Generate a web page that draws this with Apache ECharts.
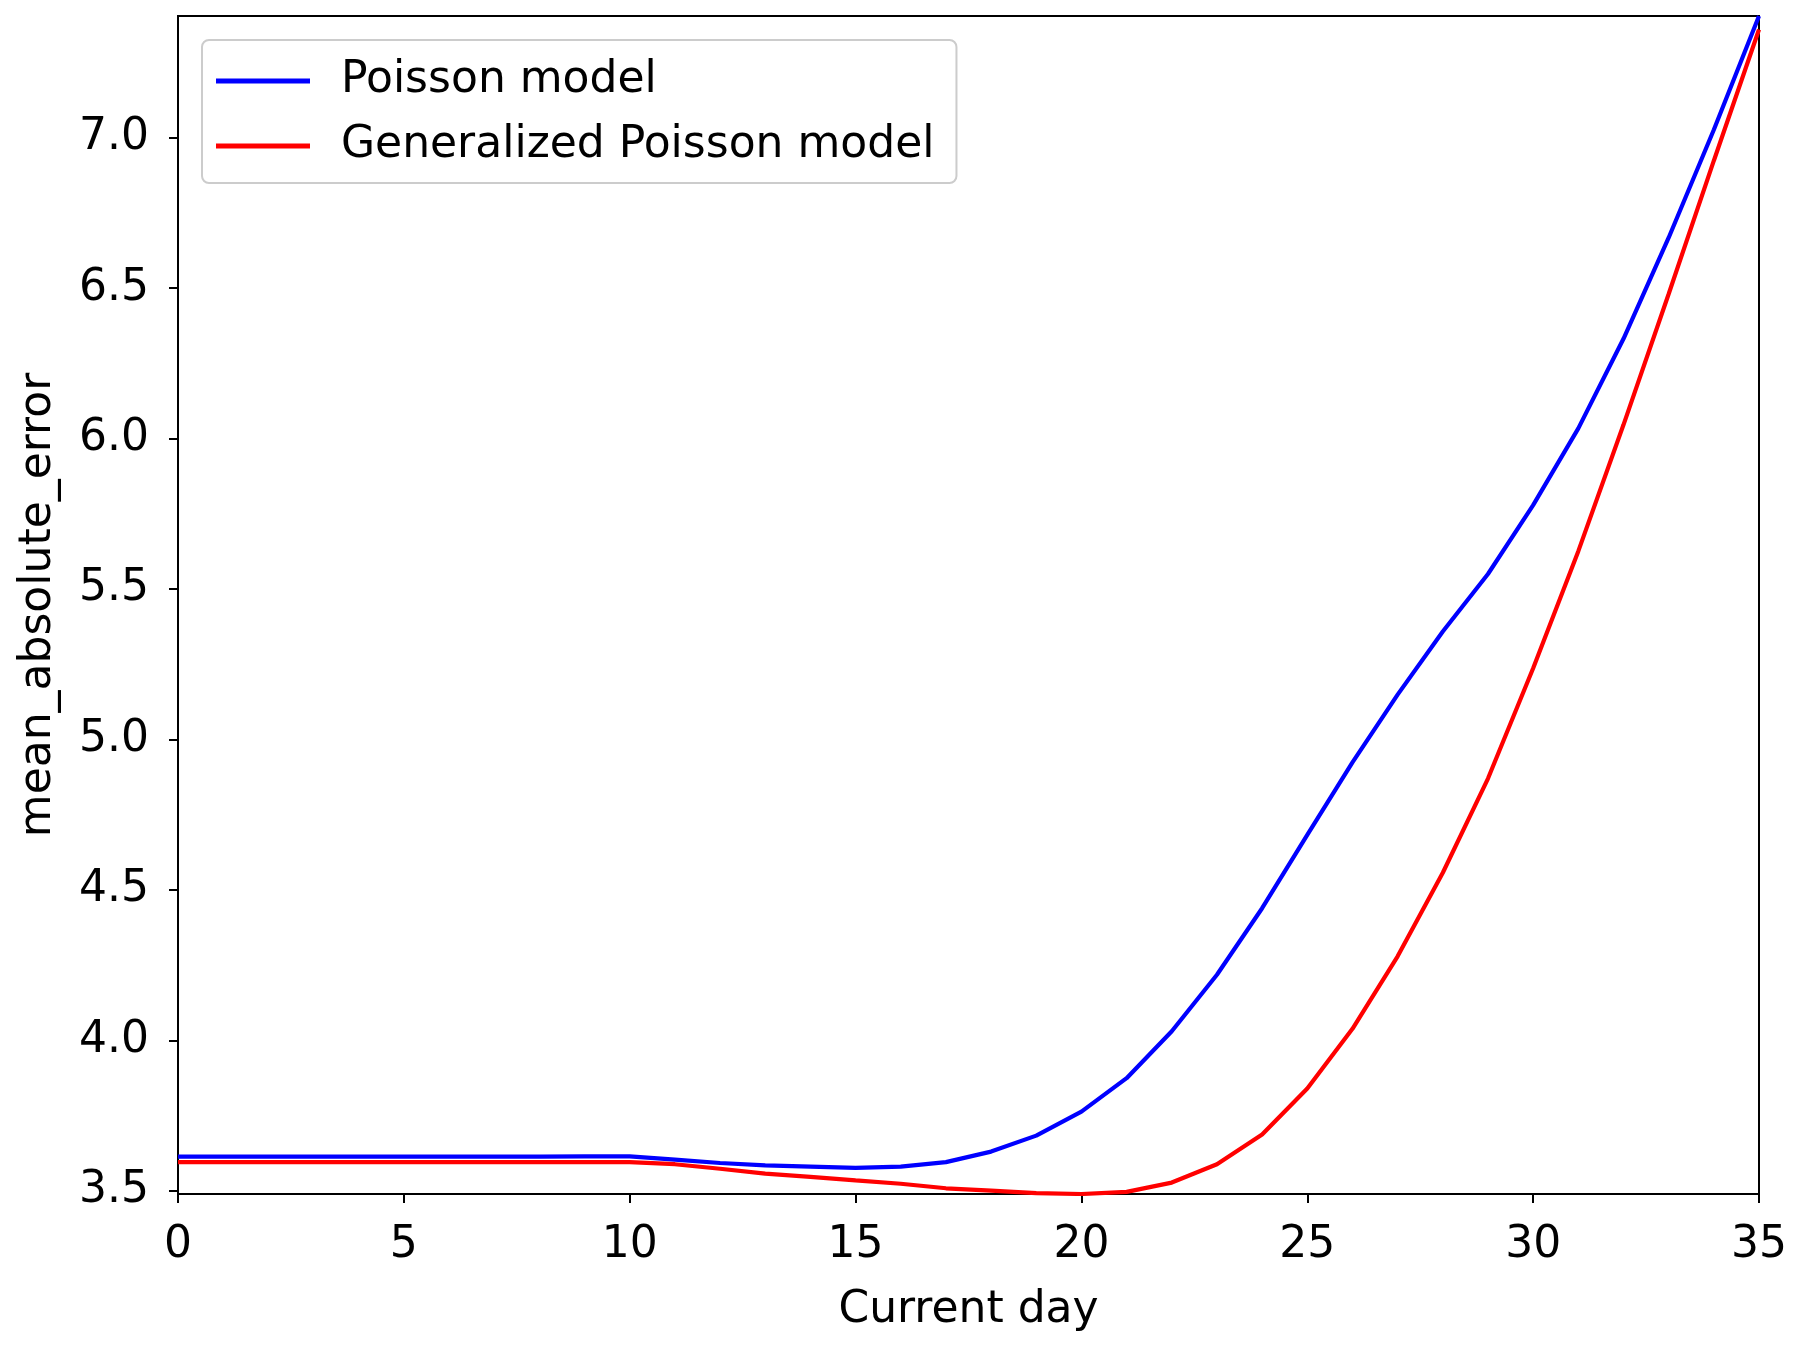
<!DOCTYPE html>
<html>
<head>
<meta charset="utf-8">
<script src="https://cdn.jsdelivr.net/npm/echarts@6/dist/echarts.min.js"></script>
<style>
html,body{margin:0;padding:0;background:#fff;}
#chart{width:1800px;height:1346px;}
</style>
</head>
<body>
<div id="chart"></div>
<script>
const days = [0,1,2,3,4,5,6,7,8,9,10,11,12,13,14,15,16,17,18,19,20,21,22,23,24,25,26,27,28,29,30,31,32,33,34,35];
const poisson = [3.613,3.613,3.613,3.613,3.613,3.613,3.613,3.613,3.613,3.614,3.614,3.603,3.592,3.584,3.580,3.576,3.580,3.595,3.630,3.683,3.763,3.874,4.030,4.218,4.439,4.683,4.924,5.149,5.359,5.550,5.779,6.034,6.332,6.668,7.027,7.405];
const generalized = [3.595,3.595,3.595,3.595,3.595,3.595,3.595,3.595,3.595,3.595,3.595,3.588,3.573,3.557,3.546,3.534,3.523,3.508,3.500,3.492,3.489,3.496,3.527,3.588,3.687,3.840,4.038,4.279,4.557,4.870,5.237,5.626,6.046,6.481,6.924,7.360];
const yTicks = [3.5,4.0,4.5,5.0,5.5,6.0,6.5,7.0];
const seriesNames = ['Poisson model','Generalized Poisson model'];
const xLabel = 'Current day';
const yLabel = 'mean_absolute_error';

const font = 'DejaVu Sans';
const fs = 44;
const chart = echarts.init(document.getElementById('chart'), null, {renderer:'canvas'});
const pair = arr => days.map((d,i)=>[d,arr[i]]);
chart.setOption({
  animation:false,
  backgroundColor:'#fff',
  textStyle:{fontFamily:font},
  grid:{left:178,right:41,top:16,bottom:152,show:true,borderColor:'#000',borderWidth:2,backgroundColor:'transparent'},
  legend:{
    orient:'vertical',left:202,top:40,
    data:seriesNames.map(n=>({name:n,icon:'rect'})),
    itemWidth:94,itemHeight:5,itemGap:15,
    padding:[16,22,12,14],
    borderColor:'#cccccc',borderWidth:2,borderRadius:7,backgroundColor:'#fff',
    textStyle:{fontFamily:font,fontSize:fs,color:'#000',lineHeight:50,padding:[0,0,0,26]}
  },
  xAxis:{
    type:'value',min:0,max:35,interval:5,
    name:xLabel,nameLocation:'middle',nameGap:95,
    nameTextStyle:{fontFamily:font,fontSize:fs,color:'#000'},
    axisLine:{show:true,onZero:false,lineStyle:{color:'#000',width:2}},
    axisTick:{show:true,length:9,lineStyle:{color:'#000',width:2}},
    axisLabel:{fontFamily:font,fontSize:fs,color:'#000',margin:30},
    splitLine:{show:false}
  },
  yAxis:{
    type:'value',min:3.489,max:7.405,
    name:yLabel,nameLocation:'middle',nameGap:117,
    nameTextStyle:{fontFamily:font,fontSize:fs,color:'#000'},
    axisLine:{show:true,onZero:false,lineStyle:{color:'#000',width:2}},
    axisTick:{show:true,length:9,customValues:yTicks,lineStyle:{color:'#000',width:2}},
    axisLabel:{fontFamily:font,fontSize:fs,color:'#000',margin:29,customValues:yTicks,formatter:v=>v.toFixed(1)},
    splitLine:{show:false}
  },
  series:[
    {name:seriesNames[0],type:'line',data:pair(poisson),symbol:'none',lineStyle:{color:'#0000ff',width:4.2},itemStyle:{color:'#0000ff'}},
    {name:seriesNames[1],type:'line',data:pair(generalized),symbol:'none',lineStyle:{color:'#ff0000',width:4.2},itemStyle:{color:'#ff0000'}}
  ]
});
</script>
</body>
</html>
